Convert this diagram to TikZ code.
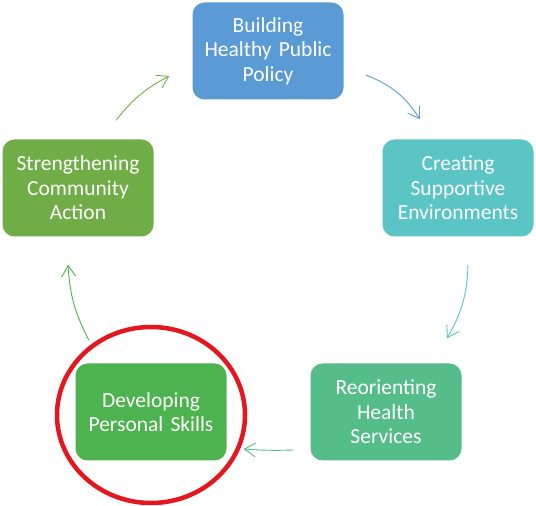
\documentclass[tikz,border=0pt]{standalone}
\usepackage{fontspec}
\setmainfont{Carlito}
\usetikzlibrary{arrows.meta}
\definecolor{polblue}{HTML}{5B9BD5}
\definecolor{envteal}{HTML}{5BC4C5}
\definecolor{comgreen}{HTML}{70AD47}
\definecolor{hltgreen}{HTML}{55BD8A}
\definecolor{skillgreen}{HTML}{4CB34E}
\definecolor{ringred}{HTML}{E5161D}
\tikzset{
  area/.style={draw=none, rounded corners=12pt, minimum width=151pt, minimum height=97pt,
    inner xsep=3pt, text width=145pt, align=center, text=white, font=\fontsize{21.5}{24.5}\selectfont},
  cyc/.style={line width=0.9pt, -{Straight Barb[length=11pt,width=14pt]}}
}
\begin{document}
\begin{tikzpicture}[x=1pt,y=1pt]
        \useasboundingbox (0,0) rectangle (536,506);

        % the five action areas
        \node[area, fill=polblue] (policy) at (268,455) {Building\\Healthy Public\\Policy};
        \node[area, fill=envteal] (environ) at (458,318) {Creating\\Supportive\\Environments};
        \node[area, fill=hltgreen] (services) at (386,94) {Reorienting\\Health\\Services};
        \node[area, fill=skillgreen] (skills) at (151,94) {Developing\\Personal Skills};
        \node[area, fill=comgreen] (community) at (78,318) {Strengthening\\Community\\Action};

        % arrows round the cycle
        \draw[cyc, polblue] ([shift={(22,-24)}]policy.east) to[bend left=18] ([shift={(-38,20)}]environ.north);
        \draw[cyc, envteal] ([shift={(10,-28)}]environ.south) to[bend left=14] ([shift={(61,25)}]services.north);
        \draw[cyc, hltgreen] ([shift={(-17,-38)}]services.west) to[bend left=3] ([shift={(17,-37)}]skills.east);
        \draw[cyc, skillgreen] ([shift={(-62,23)}]skills.north) to[bend left=12] ([shift={(-10,-28)}]community.south);
        \draw[cyc, comgreen] ([shift={(38,19)}]community.north) to[bend left=12] ([shift={(-23,-25)}]policy.west);

        % highlight
        \draw[ringred, line width=4.5pt] ([yshift=-3]skills.center) ellipse [x radius=94, y radius=88];
\end{tikzpicture}
\end{document}
